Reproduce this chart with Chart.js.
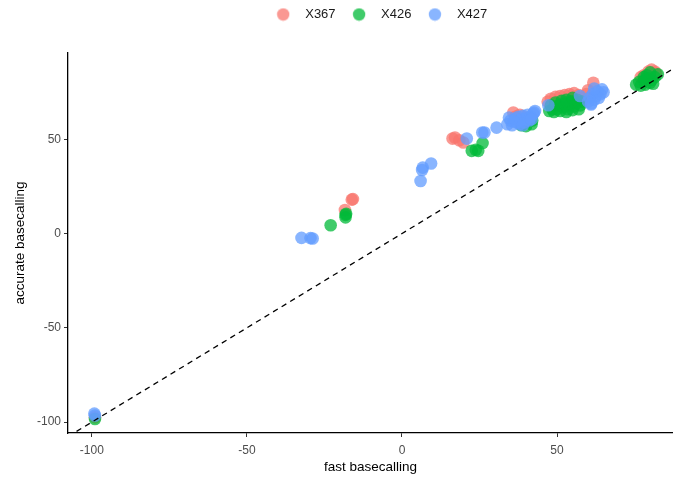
<!DOCTYPE html>
<html>
<head>
<meta charset="utf-8">
<script src="https://cdn.jsdelivr.net/npm/chart.js@4/dist/chart.umd.min.js"></script>
<style>
  html, body { margin: 0; padding: 0; background: #ffffff; }
  #wrap { width: 673px; height: 479px; }
</style>
</head>
<body>
<div id="wrap"><canvas id="c" width="673" height="479"></canvas></div>
<script>
// Axis labels and tick values
const xTitle = 'fast basecalling';
const yTitle = 'accurate basecalling';
const xTicks = [-100, -50, 0, 50];
const yTicks = [-100, -50, 0, 50];
const xRange = [-107.7, 87.4];
const yRange = [-105.8, 95.8];

// Series names
const seriesNames = ['X367', 'X426', 'X427'];

// X367: fast vs accurate
const x367Fast = [-99, -18.4, -16.2, -15.8, 16.3, 17.1, 19.8, 18.5, 35.9, 36.5, 38, 40,
  47, 48, 49.5, 51, 52.5, 54, 55.5, 57, 50, 53, 56, 58, 59.5, 61.7, 60,
  78, 79.5, 80.5, 81.5, 82, 77, 80];
const x367Acc = [-97.5, 12.5, 18.0, 18.3, 50.4, 51, 48.3, 49.5, 64.2, 62, 63, 61.5,
  70, 71.5, 72.5, 73, 73.5, 74, 74.5, 73.5, 69, 70.5, 72, 72, 74, 80, 76,
  84, 86, 87, 86, 85, 83, 83.5];

// X426: fast vs accurate
const x426Fast = [-99, -23, -18.2, -18.2, -18, 22.5, 24.6, 23.8, 26, 38.5, 40, 41.8, 42,
  47.5, 48.5, 49, 50, 50.5, 51, 52, 52.5, 53, 53.5, 54, 54.5, 55, 55.5, 56, 56.5, 57, 57.5,
  48, 49.5, 51.5, 53, 55, 58,
  75.5, 76.5, 77, 78, 78.5, 79, 80, 80.5, 81, 79, 78, 81.5, 82.5, 80];
const x426Acc = [-98.4, 4.4, 8.6, 9.9, 10.5, 43.9, 43.9, 44.5, 48, 57.5, 57, 58, 60,
  65, 66, 64.5, 66, 68, 65, 67, 69, 64.5, 66, 68, 70, 65.5, 67.5, 69, 71, 66, 68,
  68, 69.5, 70.5, 71, 72, 70,
  79, 80.5, 78.5, 81, 79, 82.5, 80, 81.5, 79.5, 84, 83, 83, 84.5, 85.5];

// X427: fast vs accurate
const x427Fast = [-99, -99.2, -32.4, -28.8, -29.5, 6, 6.5, 6.7, 9.4, 20.9, 25.9, 26.6, 30.5,
  34, 35, 35.5, 36.5, 37, 37.5, 38, 38.5, 39, 39.5, 40, 40.5, 41, 41.5, 42.3, 36, 34.5, 39,
  42.6, 42.9, 41.8, 47.2, 57.4,
  60, 60.5, 61, 61.5, 62, 62.5, 63, 63.5, 64, 64.5, 65, 62, 61];
const x427Acc = [-96.5, -95.5, -2.3, -2.6, -2.4, 27.9, 33.7, 35, 37.2, 50.4, 53.6, 53.6, 56.2,
  58, 60, 57.5, 61, 59, 62, 58, 60.5, 62.5, 59, 61, 63, 60, 62, 63.5, 59.5, 61.5, 57.5,
  64.2, 65, 60.7, 68.1, 73,
  70, 72, 69, 74, 71, 73, 75.5, 72, 74, 76.5, 75, 77, 68.5];

const seriesColors = ['rgba(248,118,109,0.75)', 'rgba(0,186,56,0.75)', 'rgba(97,156,255,0.75)'];

function pairs(xs, ys) {
  return xs.map((x, i) => ({ x: x, y: ys[i] }));
}

// Small round swatch used as the legend symbol
function dot(color) {
  const c = document.createElement('canvas');
  c.width = 14; c.height = 14;
  const g = c.getContext('2d');
  g.fillStyle = color;
  g.beginPath();
  g.arc(7, 7, 6.2, 0, Math.PI * 2);
  g.fill();
  return c;
}

const scatterBase = { type: 'scatter', pointRadius: 6.3, pointHoverRadius: 6.3, borderWidth: 0, pointBorderWidth: 0 };

const datasets = [
  Object.assign({}, scatterBase, { label: seriesNames[0], data: pairs(x367Fast, x367Acc), backgroundColor: seriesColors[0], order: 3 }),
  Object.assign({}, scatterBase, { label: seriesNames[1], data: pairs(x426Fast, x426Acc), backgroundColor: seriesColors[1], order: 2 }),
  Object.assign({}, scatterBase, { label: seriesNames[2], data: pairs(x427Fast, x427Acc), backgroundColor: seriesColors[2], order: 1 }),
  {
    // identity line y = x across the x range
    type: 'line', label: '', order: 0,
    data: [{ x: xRange[0], y: xRange[0] }, { x: xRange[1], y: xRange[1] }],
    borderColor: '#000000', borderWidth: 1.3, borderDash: [5.5, 4.5],
    pointRadius: 0, fill: false, clip: 0
  }
];

// extra room between the legend and the plot, and a small shift of the legend row to the right
const legendGap = {
  id: 'legendGap',
  beforeInit(chart) {
    const fit = chart.legend.fit;
    chart.legend.fit = function () {
      fit.bind(chart.legend)();
      this.height += 22;
      if (this.lineWidths) this.lineWidths = this.lineWidths.map(w => w - 14);
    };
  }
};

const tickFont = { family: '"Liberation Sans", Arial, sans-serif', size: 12 };
const titleFont = { family: '"Liberation Sans", Arial, sans-serif', size: 13.5 };

new Chart(document.getElementById('c'), {
  data: { datasets: datasets },
  plugins: [legendGap],
  options: {
    responsive: false,
    animation: false,
    layout: { autoPadding: false, padding: { left: 0, right: 0, top: 0, bottom: 0 } },
    plugins: {
      tooltip: { enabled: false },
      legend: {
        position: 'top',
        fullSize: false,
        labels: {
          usePointStyle: true,
          pointStyleWidth: 31,
          padding: 8,
          color: '#1a1a1a',
          font: { family: '"Liberation Sans", Arial, sans-serif', size: 13 },
          generateLabels(chart) {
            const items = Chart.defaults.plugins.legend.labels.generateLabels(chart);
            items.forEach(it => {
              const ds = chart.data.datasets[it.datasetIndex];
              it.pointStyle = dot(ds.backgroundColor);
            });
            return items;
          },
          filter: (item) => item.text !== '',
          sort: (a, b) => a.datasetIndex - b.datasetIndex
        }
      }
    },
    scales: {
      x: {
        type: 'linear', position: 'bottom',
        min: xRange[0], max: xRange[1],
        afterBuildTicks(s) { s.ticks = xTicks.map(v => ({ value: v })); },
        afterFit(s) { s.height = 46; s.paddingLeft = 0; s.paddingRight = 0; },
        grid: { drawOnChartArea: false, drawTicks: true, tickLength: 4, color: '#333333', tickWidth: 1 },
        border: { display: true, color: '#000000', width: 1.3 },
        ticks: { color: '#4d4d4d', font: tickFont, padding: 6, maxRotation: 0 },
        title: { display: true, text: xTitle, color: '#000000', font: titleFont, padding: { top: 0, bottom: 4 } }
      },
      y: {
        type: 'linear', position: 'left',
        min: yRange[0], max: yRange[1],
        afterBuildTicks(s) { s.ticks = yTicks.map(v => ({ value: v })); },
        afterFit(s) { s.width = 68; s.paddingTop = 0; s.paddingBottom = 0; },
        grid: { drawOnChartArea: false, drawTicks: true, tickLength: 4, color: '#333333', tickWidth: 1 },
        border: { display: true, color: '#000000', width: 1.3 },
        ticks: { color: '#4d4d4d', font: tickFont, padding: 3 },
        title: { display: true, text: yTitle, color: '#000000', font: titleFont, padding: { top: 12, bottom: 0 } }
      }
    }
  }
});
</script>
</body>
</html>
